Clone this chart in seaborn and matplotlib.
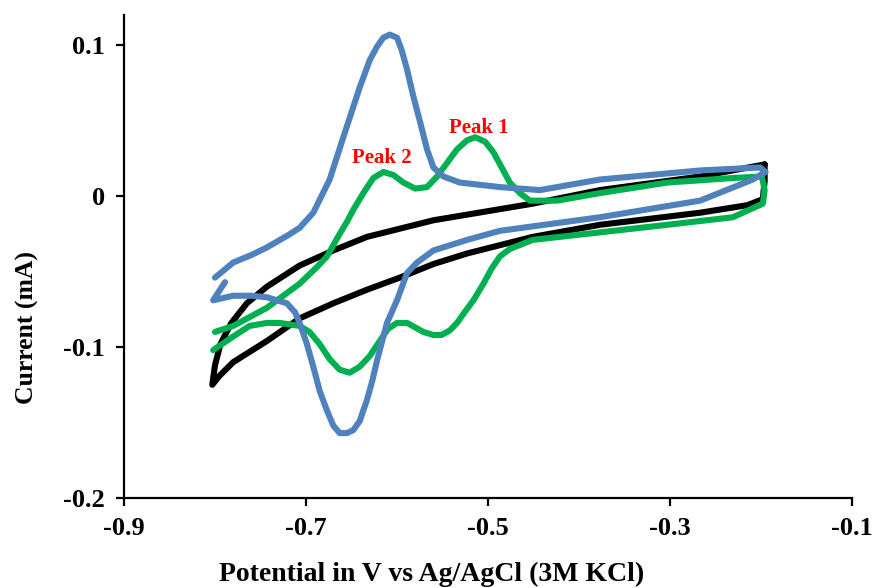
import numpy as np
import pandas as pd
import matplotlib
matplotlib.use("Agg")
import matplotlib.pyplot as plt
import seaborn as sns

# ---- data (potential V, current mA), each curve traced around its loop ----
black_x = [-0.196, -0.267, -0.377, -0.451, -0.560, -0.633, -0.670, -0.707, -0.743, -0.765, -0.782, -0.794, -0.800, -0.803,
           -0.795, -0.780, -0.743, -0.707, -0.670, -0.633, -0.597, -0.560, -0.523, -0.451, -0.377, -0.267, -0.215,
           -0.198, -0.196, -0.196]
black_y = [0.021, 0.013, 0.004, -0.005, -0.016, -0.027, -0.036, -0.046, -0.060, -0.071, -0.084, -0.098, -0.112, -0.125,
           -0.119, -0.110, -0.096, -0.081, -0.071, -0.062, -0.054, -0.045, -0.038, -0.027, -0.019, -0.011, -0.006,
           -0.002, 0.010, 0.021]

green_x = [-0.800, -0.780, -0.743, -0.707, -0.688, -0.677, -0.663, -0.655, -0.648, -0.637, -0.626, -0.615, -0.604,
           -0.593, -0.580, -0.567, -0.556, -0.545, -0.534, -0.523, -0.514, -0.503, -0.494, -0.485, -0.476, -0.465,
           -0.454, -0.424, -0.377, -0.303, -0.231, -0.199, -0.196,
           -0.198, -0.231, -0.303, -0.377, -0.451, -0.476, -0.487, -0.496, -0.505, -0.516, -0.527, -0.534, -0.542,
           -0.551, -0.560, -0.571, -0.580, -0.589, -0.600, -0.610, -0.619, -0.630, -0.641, -0.652, -0.663, -0.674,
           -0.685, -0.696, -0.707, -0.729, -0.743, -0.762, -0.780, -0.802]
green_y = [-0.090, -0.086, -0.074, -0.058, -0.047, -0.040, -0.025, -0.017, -0.009, 0.002, 0.012, 0.016, 0.014,
           0.009, 0.005, 0.006, 0.013, 0.022, 0.031, 0.037, 0.039, 0.036, 0.029, 0.019, 0.009, 0.002,
           -0.003, -0.003, 0.002, 0.009, 0.012, 0.013, 0.004,
           -0.005, -0.014, -0.019, -0.024, -0.029, -0.035, -0.040, -0.048, -0.058, -0.069, -0.078, -0.084, -0.089,
           -0.092, -0.092, -0.090, -0.087, -0.084, -0.084, -0.088, -0.096, -0.106, -0.113, -0.117, -0.115, -0.108,
           -0.098, -0.090, -0.086, -0.084, -0.084, -0.086, -0.093, -0.102]

blue_x = [-0.800, -0.780, -0.760, -0.743, -0.720, -0.707, -0.692, -0.674, -0.659, -0.641, -0.630, -0.622, -0.615,
          -0.608, -0.600, -0.595, -0.589, -0.582, -0.575, -0.567, -0.560, -0.549, -0.531, -0.487, -0.443, -0.377,
          -0.267, -0.201, -0.195,
          -0.209, -0.267, -0.377, -0.487, -0.523, -0.560, -0.578, -0.589, -0.600, -0.611, -0.622, -0.627, -0.633,
          -0.641, -0.648, -0.655, -0.663, -0.670, -0.677, -0.685, -0.692, -0.699, -0.707, -0.712, -0.721, -0.743,
          -0.760, -0.780, -0.802, -0.789]
blue_y = [-0.054, -0.044, -0.039, -0.034, -0.026, -0.021, -0.011, 0.011, 0.039, 0.072, 0.090, 0.099, 0.105,
          0.107, 0.105, 0.097, 0.084, 0.066, 0.050, 0.031, 0.019, 0.013, 0.009, 0.006, 0.004, 0.011,
          0.017, 0.019, 0.016,
          0.011, -0.003, -0.014, -0.023, -0.029, -0.036, -0.044, -0.051, -0.069, -0.084, -0.109, -0.122, -0.135,
          -0.149, -0.155, -0.157, -0.157, -0.152, -0.142, -0.129, -0.113, -0.098, -0.084, -0.077, -0.071, -0.067,
          -0.066, -0.066, -0.069, -0.057]

x_ticks = [-0.9, -0.7, -0.5, -0.3, -0.1]
x_tick_labels = ["-0.9", "-0.7", "-0.5", "-0.3", "-0.1"]
y_ticks = [0.1, 0.0, -0.1, -0.2]
y_tick_labels = ["0.1", "0", "-0.1", "-0.2"]

peak_labels = ["Peak 1", "Peak 2"]
peak_x = [-0.510, -0.617]
peak_y = [0.045, 0.025]

# ---- figure ----
sns.set_theme(style="white")
plt.rcParams["font.family"] = ["Liberation Serif", "DejaVu Serif"]
plt.rcParams["font.weight"] = "bold"

fig = plt.figure(figsize=(8.75, 5.88), dpi=100)
ax = fig.add_axes([124 / 875, 1 - 498 / 588, (852 - 124) / 875, (498 - 15) / 588])

curves = [("black", black_x, black_y, "#000000"),
          ("green", green_x, green_y, "#00B050"),
          ("blue", blue_x, blue_y, "#4F81BD")]
for name, xs, ys, col in curves:
    df = pd.DataFrame({"E": xs, "I": ys})
    sns.lineplot(data=df, x="E", y="I", sort=False, estimator=None, color=col,
                 lw=4.4, ax=ax, solid_capstyle="round", solid_joinstyle="round")

for t, px, py in zip(peak_labels, peak_x, peak_y):
    ax.text(px, py, t, color="#FF0000", fontsize=15, fontweight="bold",
            ha="center", va="center")

ax.set_xlim(-0.9, -0.1)
ax.set_ylim(-0.2, 0.12)
ax.set_xticks(x_ticks)
ax.set_xticklabels(x_tick_labels)
ax.set_yticks(y_ticks)
ax.set_yticklabels(y_tick_labels)

for s in ["top", "right"]:
    ax.spines[s].set_visible(False)
for s in ["left", "bottom"]:
    ax.spines[s].set_color("black")
    ax.spines[s].set_linewidth(1.6)

ax.tick_params(axis="both", which="major", direction="out", length=5.5, width=1.6,
               color="black", labelsize=19, pad=8, labelcolor="black",
               bottom=True, left=True)
for lab in ax.get_xticklabels() + ax.get_yticklabels():
    lab.set_fontweight("bold")

ax.set_xlabel("Potential in V vs Ag/AgCl (3M KCl)", fontsize=20, fontweight="bold", color="black")
ax.set_ylabel("Current (mA)", fontsize=18.5, fontweight="bold", color="black")
ax.xaxis.label.set_va("center")
ax.yaxis.label.set_va("center")
ax.xaxis.set_label_coords(0.423, -0.159)
ax.yaxis.set_label_coords(-0.132, 0.352)

ax.grid(False)
fig.savefig("out.png", dpi=100)
